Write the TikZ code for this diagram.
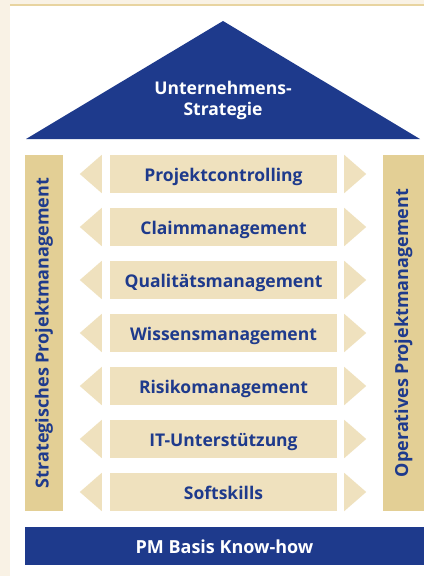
\documentclass[tikz,border=0pt]{standalone}
\usepackage{fontspec}
\setmainfont{Open Sans}
\usepackage{tikz}
\usetikzlibrary{calc}

\definecolor{pmblue}{RGB}{30,58,140}
\definecolor{boxbeige}{RGB}{239,225,190}
\definecolor{saeulebeige}{RGB}{227,207,149}
\definecolor{creme}{RGB}{249,242,229}
\definecolor{linie}{RGB}{232,212,160}

\tikzset{
  modul/.style={fill=boxbeige, minimum width=227pt, minimum height=38pt, inner sep=0pt,
    text height=14pt, text depth=0pt,
    text=pmblue, font=\bfseries\fontsize{17.5}{20}\selectfont},
  saeule/.style={fill=saeulebeige, minimum height=356pt, inner sep=0pt,
    text=pmblue, font=\bfseries\fontsize{18}{20}\selectfont},
}

\begin{document}
\begin{tikzpicture}[x=1pt,y=-1pt]

\useasboundingbox (0,0) rectangle (424,576);
\fill[creme] (0,0) rectangle (424,576);
\fill[white] (10,6) rectangle (424,576);
\fill[linie] (10,4) rectangle (424,6);

% Dach
\fill[pmblue] (26,139) -- (223,21) -- (420,139) -- cycle;
\node[text=white, align=center, font=\bfseries\fontsize{17.5}{21}\selectfont] (dach) at (223,100) {Unternehmens-\\Strategie};

% Saeulen
\node[saeule, minimum width=38pt] (links) at (44,333) {};
\node[saeule, minimum width=41pt] (rechts) at (403.5,333) {};
\node[rotate=90, text=pmblue, font=\bfseries\fontsize{18}{20}\selectfont] (linkstext) at (links.center) {Strategisches Projektmanagement};
\node[rotate=90, text=pmblue, font=\bfseries\fontsize{18}{20}\selectfont] (rechtstext) at (rechts.center) {Operatives Projektmanagement};

% Module mit Pfeilen
\foreach \name [count=\i from 0] in {Projektcontrolling, Claimmanagement, Qualitätsmanagement, Wissensmanagement, Risikomanagement, IT-Unterstützung, Softskills} {
  \pgfmathsetmacro{\y}{174+53*\i}
  \node[modul] (m\i) at (223.5,\y) {\name};
  \fill[boxbeige] ($(m\i.north west)+(-8,0)$) -- ($(m\i.west)+(-30,0)$) -- ($(m\i.south west)+(-8,0)$) -- cycle;
  \fill[boxbeige] ($(m\i.north east)+(7,0)$) -- ($(m\i.east)+(29,0)$) -- ($(m\i.south east)+(7,0)$) -- cycle;
}

% Basis
\node[fill=pmblue, minimum width=399pt, minimum height=38pt, inner sep=0pt, text=white,
  text height=14pt, text depth=0pt,
  font=\bfseries\fontsize{18}{20}\selectfont] (basis) at (224.5,546) {PM Basis Know-how};

\end{tikzpicture}
\end{document}
